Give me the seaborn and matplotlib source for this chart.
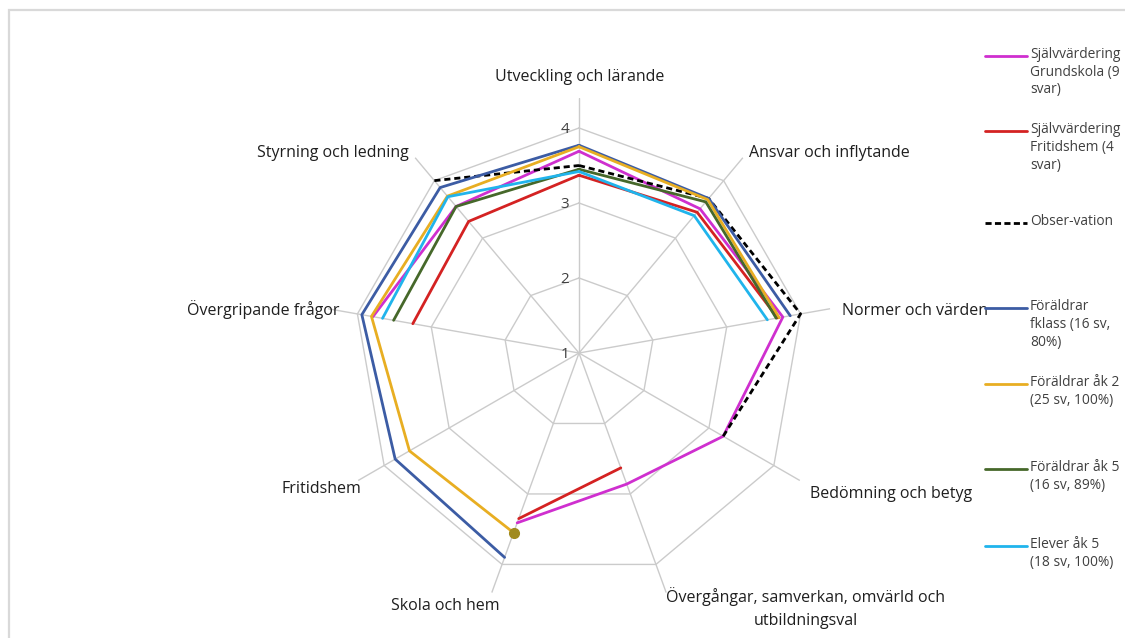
import numpy as np
import pandas as pd
import seaborn as sns
import matplotlib.pyplot as plt
from matplotlib.lines import Line2D
from matplotlib.patches import Rectangle

# Categories, clockwise from the top
categories = ['Utveckling och lärande', 'Ansvar och inflytande', 'Normer och värden',
              'Bedömning och betyg', 'Övergångar, samverkan, omvärld och\nutbildningsval',
              'Skola och hem', 'Fritidshem', 'Övergripande frågor', 'Styrning och ledning']

nan = np.nan
sjalv_grundskola = [3.69, 3.51, 3.76, 3.22, 2.86, 3.41, nan, 3.79, 3.55]
sjalv_fritidshem = [3.37, 3.45, 3.69, nan, 2.63, 3.35, nan, 3.25, 3.29]
observation = [3.50, 3.69, 4.00, 3.22, nan, nan, nan, nan, 4.00]
foraldrar_fklass = [3.77, 3.69, 3.86, nan, nan, 3.90, 3.83, 3.94, 3.88]
foraldrar_ak2 = [3.75, 3.67, 3.71, nan, nan, 3.55, 3.61, 3.81, 3.73]
foraldrar_ak5 = [3.45, 3.63, 3.67, nan, nan, nan, nan, 3.51, 3.55]
elever_ak5 = [3.42, 3.39, 3.55, nan, nan, nan, nan, 3.66, 3.72]

series_labels = ['Självvärdering\nGrundskola (9\nsvar)', 'Självvärdering\nFritidshem (4\nsvar)',
                 'Obser-vation', 'Föräldrar\nfklass (16 sv,\n80%)', 'Föräldrar åk 2\n(25 sv, 100%)',
                 'Föräldrar åk 5\n(16 sv, 89%)', 'Elever åk 5\n(18 sv, 100%)']
series_values = [sjalv_grundskola, sjalv_fritidshem, observation, foraldrar_fklass,
                 foraldrar_ak2, foraldrar_ak5, elever_ak5]
colors = ['#CF2FCF', '#D42222', '#000000', '#3C5CA4', '#E8AE22', '#46682A', '#20B4EC']
styles = ['-', '-', '--', '-', '-', '-', '-']
ticks = [1, 2, 3, 4]

sns.set_theme(style='white')
plt.rcParams['font.family'] = ['Open Sans', 'DejaVu Sans']
text_col = '#404040'
grid_col = '#CBCBCB'

W, H = 1125, 638
fig = plt.figure(figsize=(W / 100, H / 100), dpi=100)

# frame around the chart area
fig.patches.append(Rectangle((8.5 / W, -0.05), 1.2, 1.05 - 9.5 / H, transform=fig.transFigure,
                             fill=False, edgecolor='#D9D9D9', lw=1.6))

# polar axes: center at (579, 353) px, value 4 -> 225 px, value 1 at centre
rmax = 4.4
R = 225 * (rmax - 1) / 3
cx, cy = 579, 353
ax = fig.add_axes([(cx - R) / W, (H - cy - R) / H, 2 * R / W, 2 * R / H], projection='polar')
ax.set_theta_zero_location('N')
ax.set_theta_direction(-1)
ax.set_ylim(1, rmax)

n = len(categories)
angles = np.deg2rad(np.arange(n) * 360 / n)
closed = np.append(angles, angles[0] + 2 * np.pi)

ax.set_xticks(angles)
ax.set_xticklabels([])
ax.set_yticks([])
ax.xaxis.grid(True, color=grid_col, lw=1)
ax.yaxis.grid(False)
ax.spines['polar'].set_visible(False)
ax.set_facecolor('none')

# polygon gridlines
for t in ticks[1:]:
    ax.plot(closed, [t] * (n + 1), color=grid_col, lw=1, zorder=1)
for t in ticks:
    ax.annotate(str(t), xy=(0, t), xytext=(-7, -1), textcoords='offset points',
                ha='right', va='center', fontsize=11, color=text_col)

# series
for vals, c, ls in zip(series_values, colors, styles):
    v = np.append(vals, vals[0])
    ax.plot(closed, v, color=c, ls=ls, lw=2.0, zorder=3,
            dashes=(2.2, 1.4) if ls == '--' else (None, None))

# isolated marker at Skola och hem
ax.plot(angles[5], foraldrar_ak2[5], 'o', color='#A08A1E', ms=7, zorder=4)

# category labels: (radius, ha, va, x shift px, y shift px)
lab_pos = [(4.72, 'center', 'center', 1, 3), (4.54, 'left', 'center', -1, 3),
           (4.57, 'left', 'center', -1, 4), (4.60, 'left', 'center', -3, 6),
           (4.31, 'left', 'top', 2, 1), (4.42, 'right', 'top', 8, 4),
           (4.45, 'right', 'center', 6, 7), (4.35, 'right', 'center', 8, 0),
           (4.54, 'right', 'center', 0, 3)]
for a, lab, (r, ha, va, dx, dy) in zip(angles, categories, lab_pos):
    ax.annotate(lab, xy=(a, r), xytext=(dx * 0.72, -dy * 0.72), textcoords='offset points',
                ha=ha, va=va, fontsize=11.5, color='#1F1F1F', multialignment='center',
                linespacing=1.55, annotation_clip=False, zorder=5)

# legend, handle aligned with first text line
leg_y = [56, 131, 223, 308, 384, 469, 546]
for y, lab, c, ls in zip(leg_y, series_labels, colors, styles):
    fig.add_artist(Line2D([985 / W, 1027 / W], [1 - y / H] * 2, color=c, lw=2, ls=ls,
                          dashes=(2.2, 1.2) if ls == '--' else (None, None)))
    fig.text(1030 / W, 1 - (y - 9) / H, lab, ha='left', va='top', fontsize=9.9,
             color=text_col, linespacing=1.25)

fig.savefig('out.png', dpi=100)
